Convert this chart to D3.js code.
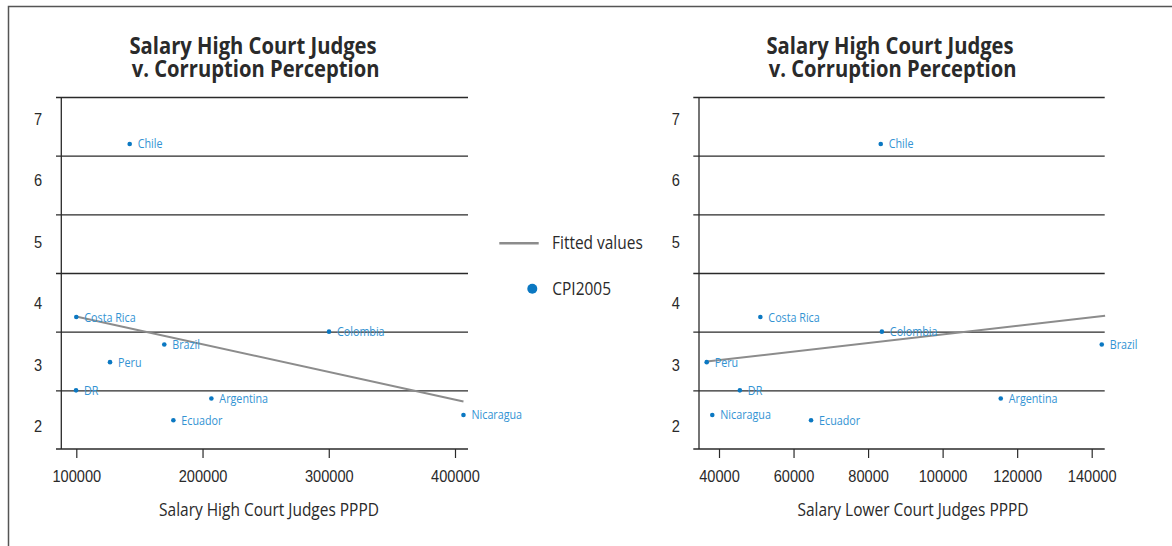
<!DOCTYPE html>
<html>
<head>
<meta charset="utf-8">
<script src="https://cdnjs.cloudflare.com/ajax/libs/d3/7.8.5/d3.min.js"></script>
<style>
  body { margin: 0; background: #fff; }
  svg { display: block; font-family: "Open Sans", "Noto Sans", sans-serif; }
</style>
</head>
<body>
<svg id="chart" width="1172" height="546"></svg>
<script>
// data
const countries   = ["Chile", "Costa Rica", "Colombia", "Brazil", "Peru", "DR", "Argentina", "Ecuador", "Nicaragua"];
const cpi2005     = [7.2, 4.25, 4.0, 3.78, 3.48, 3.0, 2.86, 2.49, 2.58];
const salaryHigh  = [142300, 100000, 300200, 169700, 126700, 99800, 207000, 176900, 406700];
const salaryLower = [83400, 51100, 83700, 142700, 36700, 45600, 115600, 64700, 38200];
const fittedHigh  = [[99800, 4.26], [406700, 2.81]];
const fittedLower = [[36700, 3.49], [143600, 4.27]];
const xTicksHigh  = [100000, 200000, 300000, 400000];
const xTicksLower = [40000, 60000, 80000, 100000, 120000, 140000];
const yLabels     = [2, 3, 4, 5, 6, 7];
const gridValues  = [3, 4, 5, 6, 7, 8];
const titleLines  = ["Salary High Court Judges", " v. Corruption Perception"];
const legendItems = ["Fitted values", "CPI2005"];

const K = 0.86; // text in the picture is horizontally squeezed
const dark = "#2a2a2a", dotCol = "#0b78c2", labCol = "#3393d3", fitCol = "#8c8c8c";

const svg = d3.select("#chart");

// outer frame (only top and left edges are visible)
svg.append("rect")
    .attr("x", 8.5).attr("y", 6.5).attr("width", 1200).attr("height", 600)
    .attr("fill", "none").attr("stroke", "#555").attr("stroke-width", 1.5);

const y = d3.scaleLinear().domain([2, 8]).range([449, 97]);
const yLab = d3.scaleLinear().domain([2, 7]).range([425.5, 118]);

function sqText(g, x, yy, str) {
    return g.append("text")
        .attr("transform", `translate(${x},${yy}) scale(${K},1)`)
        .text(str);
}

const panels = [
    {xs: salaryHigh, fit: fittedHigh, ticks: xTicksHigh, dom: [100000, 400000], rng: [76.3, 455],
     axisX: 61.3, g0: 56, g1: 468, titleX: 253, xTitleX: 269, xTitle: "Salary High Court Judges PPPD"},
    {xs: salaryLower, fit: fittedLower, ticks: xTicksLower, dom: [40000, 140000], rng: [719, 1091.7],
     axisX: 699, g0: 693.3, g1: 1104.7, titleX: 890, xTitleX: 913, xTitle: "Salary Lower Court Judges PPPD"}
];

panels.forEach(p => {
    const x = d3.scaleLinear().domain(p.dom).range(p.rng);
    const g = svg.append("g");

    // title, two lines
    titleLines.forEach((t, i) => {
        sqText(g, p.titleX, 53.5 + i * 23.5, t)
            .attr("text-anchor", "middle")
            .attr("font-size", 23.5).attr("font-weight", 700).attr("fill", dark)
            .style("white-space", "pre");
    });

    // horizontal grid lines
    const grid = g.append("g")
        .attr("transform", `translate(${p.g0},0)`)
        .call(d3.axisRight(y).tickValues(gridValues).tickSize(p.g1 - p.g0).tickFormat(""));
    grid.select(".domain").remove();
    grid.selectAll(".tick line").attr("stroke", dark).attr("stroke-width", 1.3);

    // x axis line + y axis line
    g.append("line")
        .attr("x1", p.g0).attr("x2", p.g1).attr("y1", y(2)).attr("y2", y(2))
        .attr("stroke", dark).attr("stroke-width", 1.3);
    g.append("line")
        .attr("x1", p.axisX).attr("x2", p.axisX).attr("y1", y(8)).attr("y2", y(2))
        .attr("stroke", dark).attr("stroke-width", 1.3);

    // x axis ticks and labels
    const xa = g.append("g")
        .attr("transform", `translate(0,${y(2)})`)
        .call(d3.axisBottom(x).tickValues(p.ticks).tickSize(9).tickFormat(d3.format("d")));
    xa.select(".domain").remove();
    xa.selectAll(".tick line").attr("stroke", dark).attr("stroke-width", 1.2);
    xa.selectAll(".tick text")
        .attr("y", 33).attr("dy", 0)
        .attr("transform", `scale(${K},1)`)
        .attr("font-size", 17).attr("font-family", null).attr("fill", dark);

    // y labels (sit off the grid in the original)
    const ya = g.append("g")
        .attr("transform", `translate(${p.axisX - 23.3},0)`)
        .call(d3.axisLeft(yLab).tickValues(yLabels).tickSize(0).tickPadding(0).tickFormat(d3.format("d")));
    ya.select(".domain").remove();
    ya.selectAll(".tick text")
        .attr("x", 0).attr("dy", "0.36em")
        .attr("text-anchor", "middle")
        .attr("transform", `scale(${K},1)`)
        .attr("font-size", 17).attr("font-family", null).attr("fill", dark);

    // x axis title
    sqText(g, p.xTitleX, 516, p.xTitle)
        .attr("text-anchor", "middle")
        .attr("font-size", 18).attr("fill", dark);

    // fitted line
    g.append("path")
        .datum(p.fit)
        .attr("d", d3.line().x(d => x(d[0])).y(d => y(d[1])))
        .attr("fill", "none").attr("stroke", fitCol).attr("stroke-width", 2);

    // points and labels
    const pts = countries.map((c, i) => ({name: c, sx: p.xs[i], v: cpi2005[i]}));
    g.selectAll(".pt").data(pts).enter().append("circle")
        .attr("class", "pt")
        .attr("cx", d => x(d.sx)).attr("cy", d => y(d.v)).attr("r", 2.3)
        .attr("fill", dotCol);
    pts.forEach(d => {
        sqText(g, x(d.sx) + 8, y(d.v), d.name)
            .attr("dy", "0.36em")
            .attr("font-size", 12.5).attr("fill", labCol);
    });
});

// legend between the panels
const lg = svg.append("g");
lg.append("line")
    .attr("x1", 499.3).attr("x2", 538.7).attr("y1", 243.3).attr("y2", 243.3)
    .attr("stroke", fitCol).attr("stroke-width", 2.6);
sqText(lg, 552, 248.5, legendItems[0]).attr("font-size", 18).attr("fill", dark);
lg.append("circle").attr("cx", 532.3).attr("cy", 288.7).attr("r", 5).attr("fill", dotCol);
sqText(lg, 552.3, 295, legendItems[1]).attr("font-size", 18).attr("fill", dark);
</script>
</body>
</html>
